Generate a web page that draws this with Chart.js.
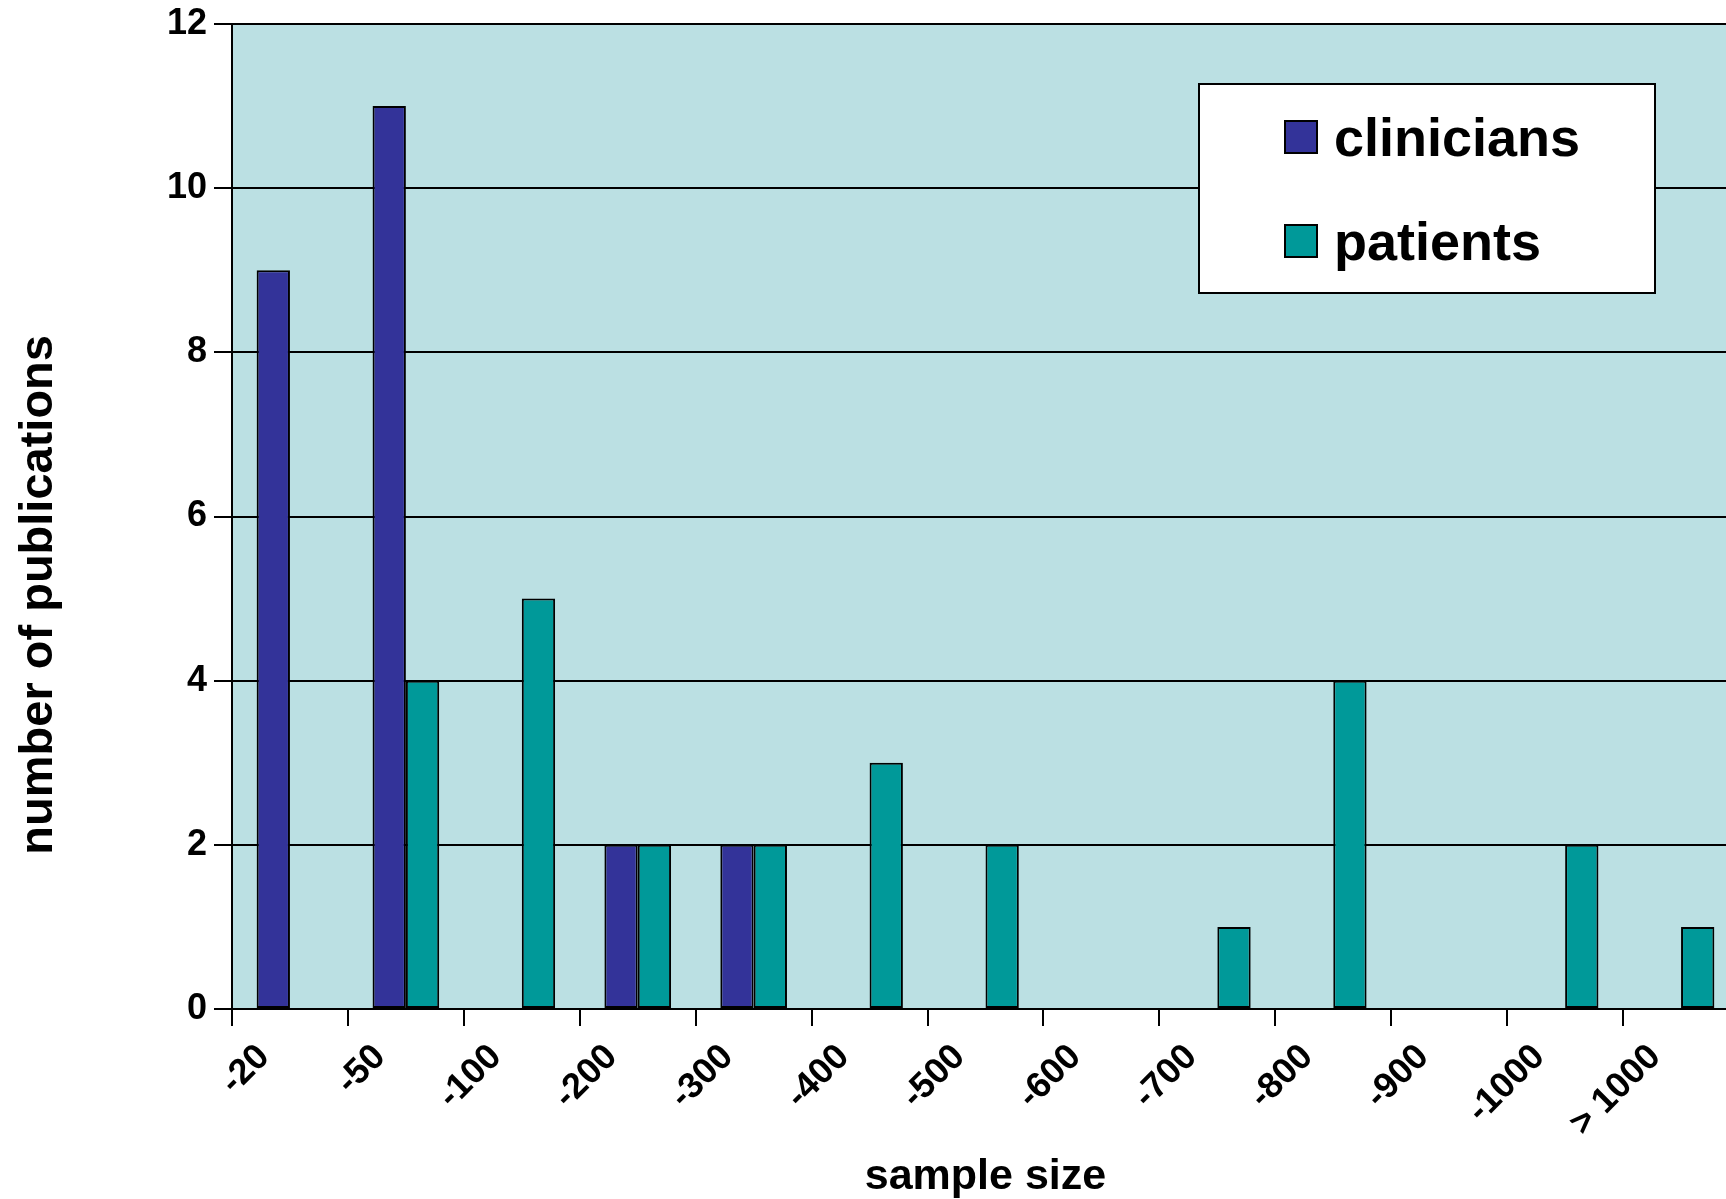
<!DOCTYPE html>
<html>
<head>
<meta charset="utf-8">
<script src="https://cdn.jsdelivr.net/npm/chart.js@4"></script>
<style>
    body { margin: 0; background: #fff; overflow: hidden; }
    #wrap { position: relative; width: 1726px; height: 1199px; overflow: hidden; }
    #chart { position: absolute; left: 0; top: 0; }
    #legend {
        position: absolute; left: 1198px; top: 83px; width: 458px; height: 211px;
        box-sizing: border-box; border: 2px solid #000; background: #fff;
        font-family: "Liberation Sans", Arial, sans-serif; font-weight: bold; font-size: 54px;
    }
    .legend-row { position: absolute; left: 84px; height: 54px; line-height: 54px; display: flex; align-items: center; white-space: nowrap; }
    .legend-box { width: 34px; height: 34px; box-sizing: border-box; border: 2px solid #000; margin-right: 16px; }
</style>
</head>
<body>
<div id="wrap">
    <canvas id="chart" width="1760" height="1199"></canvas>
    <div id="legend"></div>
</div>
<script>
// Data
const categories = ['-20', '-50', '-100', '-200', '-300', '-400', '-500', '-600', '-700', '-800', '-900', '-1000', '> 1000'];
const clinicians = [9, 11, 0, 2, 2, 0, 0, 0, 0, 0, 0, 0, 0];
const patients = [0, 4, 5, 2, 2, 3, 2, 0, 1, 4, 0, 2, 1];
const yMax = 12;
const yStep = 2;

const FONT = '"Liberation Sans", Arial, sans-serif';

// fill the plot area light blue
const plotBackground = {
    id: 'plotBackground',
    beforeDraw(chart) {
        const { ctx, chartArea: a } = chart;
        ctx.save();
        ctx.fillStyle = '#BBE0E3';
        ctx.fillRect(a.left, a.top, a.right - a.left, a.bottom - a.top);
        ctx.restore();
    }
};

const chart = new Chart(document.getElementById('chart'), {
    type: 'bar',
    data: {
        labels: categories,
        datasets: [
            { label: 'clinicians', data: clinicians, backgroundColor: '#333399' },
            { label: 'patients', data: patients, backgroundColor: '#009999' }
        ]
    },
    options: {
        responsive: false,
        animation: false,
        layout: { padding: { top: 24, right: 21, left: 0, bottom: 0 } },
        datasets: {
            bar: {
                borderColor: '#000',
                borderWidth: 2,
                borderSkipped: false,
                categoryPercentage: 0.575,
                barPercentage: 1.0
            }
        },
        plugins: {
            legend: { display: false },
            tooltip: { enabled: false }
        },
        scales: {
            x: {
                afterFit(scale) {
                    scale.height = 190;
                    scale.paddingLeft = 0;
                    scale.paddingRight = 0;
                },
                grid: { display: true, drawOnChartArea: false, drawTicks: true, tickLength: 17, color: '#000', lineWidth: 2 },
                border: { display: true, color: '#000', width: 2 },
                ticks: {
                    autoSkip: false,
                    minRotation: 45,
                    maxRotation: 45,
                    labelOffset: -26,
                    padding: 10,
                    color: '#000',
                    font: { family: FONT, size: 36, weight: 'bold' }
                },
                title: {
                    display: true,
                    text: 'sample size',
                    color: '#000',
                    padding: { top: 0, bottom: -4 },
                    font: { family: FONT, size: 43, weight: 'bold' }
                }
            },
            y: {
                min: 0,
                max: yMax,
                afterFit(scale) {
                    scale.width = 232;
                    scale.paddingTop = 0;
                    scale.paddingBottom = 0;
                },
                grid: { color: '#000', lineWidth: 2, tickLength: 18 },
                border: { display: true, color: '#000', width: 2 },
                ticks: {
                    stepSize: yStep,
                    padding: 7,
                    color: '#000',
                    font: { family: FONT, size: 36, weight: 'bold' }
                },
                title: {
                    display: true,
                    // trailing spaces push the title below the axis centre, as in the original
                    text: 'number of publications            ',
                    color: '#000',
                    padding: { top: 11, bottom: 0 },
                    font: { family: FONT, size: 47, weight: 'bold' }
                }
            }
        }
    },
    plugins: [plotBackground]
});

// HTML legend box sitting inside the plot
const legendRows = [25.3, 129.3];
const legend = document.getElementById('legend');
chart.data.datasets.forEach((ds, i) => {
    const row = document.createElement('div');
    row.className = 'legend-row';
    row.style.top = legendRows[i] + 'px';
    const box = document.createElement('span');
    box.className = 'legend-box';
    box.style.background = ds.backgroundColor;
    const txt = document.createElement('span');
    txt.innerText = ds.label;
    row.appendChild(box);
    row.appendChild(txt);
    legend.appendChild(row);
});
</script>
</body>
</html>
